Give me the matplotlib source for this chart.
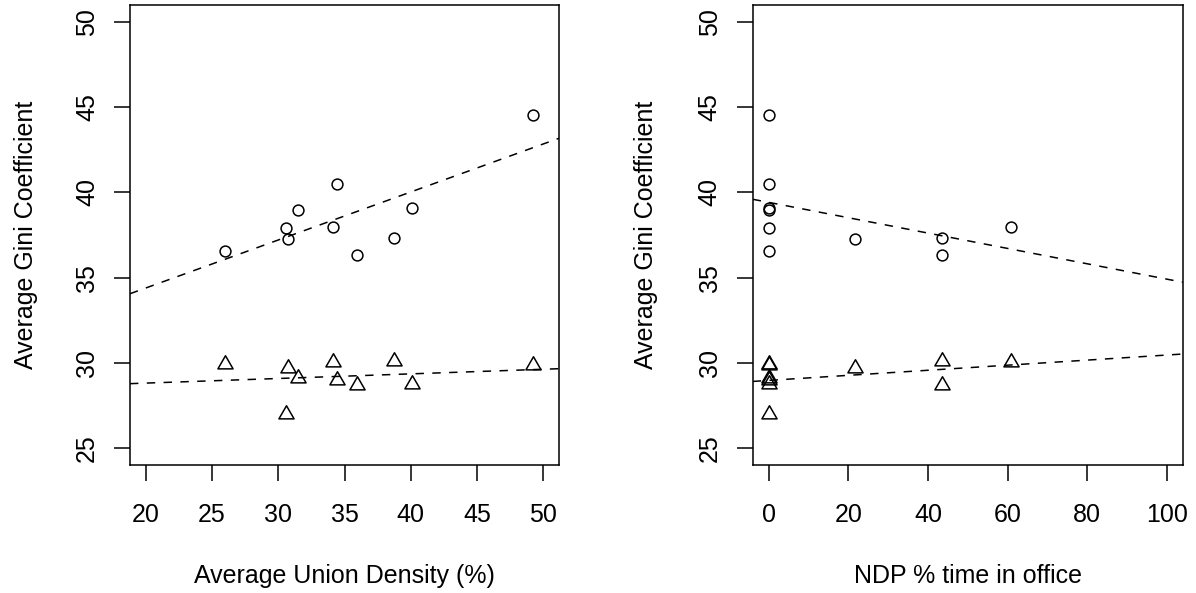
import numpy as np
import matplotlib
matplotlib.use("Agg")
import matplotlib.pyplot as plt
from matplotlib.path import Path

plt.rcParams['font.family'] = ['Liberation Sans', 'DejaVu Sans']

# ---- data ----
union_density = [25.98, 30.58, 30.71, 31.51, 34.43, 34.15, 35.93, 38.73, 40.08, 49.23]
ndp_office = [0, 0, 21.6, 0, 0, 60.9, 43.5, 43.5, 0, 0]
gini_circle = [36.58, 37.91, 37.25, 38.97, 40.51, 37.99, 36.33, 37.33, 39.09, 44.57]
gini_triangle = [29.95, 27.02, 29.70, 29.11, 28.98, 30.05, 28.68, 30.09, 28.74, 29.85]

left_xticks = [20, 25, 30, 35, 40, 45, 50]
right_xticks = [0, 20, 40, 60, 80, 100]
yticks = [25, 30, 35, 40, 45, 50]

W, H = 1196, 593
fig = plt.figure(figsize=(W / 100, H / 100), dpi=100)

FS = 18.0
LW = 1.1
tri = Path([(0, 1), (-0.866, -0.5), (0.866, -0.5), (0, 1)],
           [Path.MOVETO, Path.LINETO, Path.LINETO, Path.CLOSEPOLY])


def panel(left_px, width_px, x, xlim, xticks, xlabel, ylab_x_px):
    ax = fig.add_axes([left_px / W, (H - 465) / H, width_px / W, 460 / H])
    ax.plot(x, gini_circle, linestyle='none', marker='o', markersize=7.8,
            markerfacecolor='none', markeredgecolor='black', markeredgewidth=LW)
    ax.plot(x, gini_triangle, linestyle='none', marker=tri, markersize=12.6,
            markerfacecolor='none', markeredgecolor='black', markeredgewidth=LW)
    for ys in (gini_circle, gini_triangle):
        m, b = np.polyfit(x, ys, 1)
        ax.axline((0, b), slope=m, color='black', linewidth=LW,
                  linestyle=(0, (5.5, 5.5)))
    ax.set_xlim(*xlim)
    ax.set_ylim(24, 51)
    ax.set_xticks(xticks)
    ax.set_xticklabels([str(t) for t in xticks], fontsize=FS)
    ax.set_yticks(yticks)
    ax.set_yticklabels([str(t) for t in yticks], fontsize=FS, rotation=90, va='center')
    ax.tick_params(axis='x', length=11.2, width=LW, pad=16.0)
    ax.tick_params(axis='y', length=11.2, width=LW, pad=11.0)
    for s in ax.spines.values():
        s.set_linewidth(LW)
    ax.set_xlabel(xlabel, fontsize=FS, va='baseline')
    ax.xaxis.set_label_coords(0.5, (465 - 583) / 460)
    ax.set_ylabel('Average Gini Coefficient', fontsize=FS, va='baseline')
    ax.yaxis.set_label_coords((ylab_x_px - left_px) / width_px, 0.5)
    return ax


panel(130, 429, union_density, (18.8, 51.2), left_xticks,
      'Average Union Density (%)', 33)
panel(752.7, 430, ndp_office, (-4.0, 104.0), right_xticks,
      'NDP % time in office', 653)

fig.savefig('out.png', dpi=100)
